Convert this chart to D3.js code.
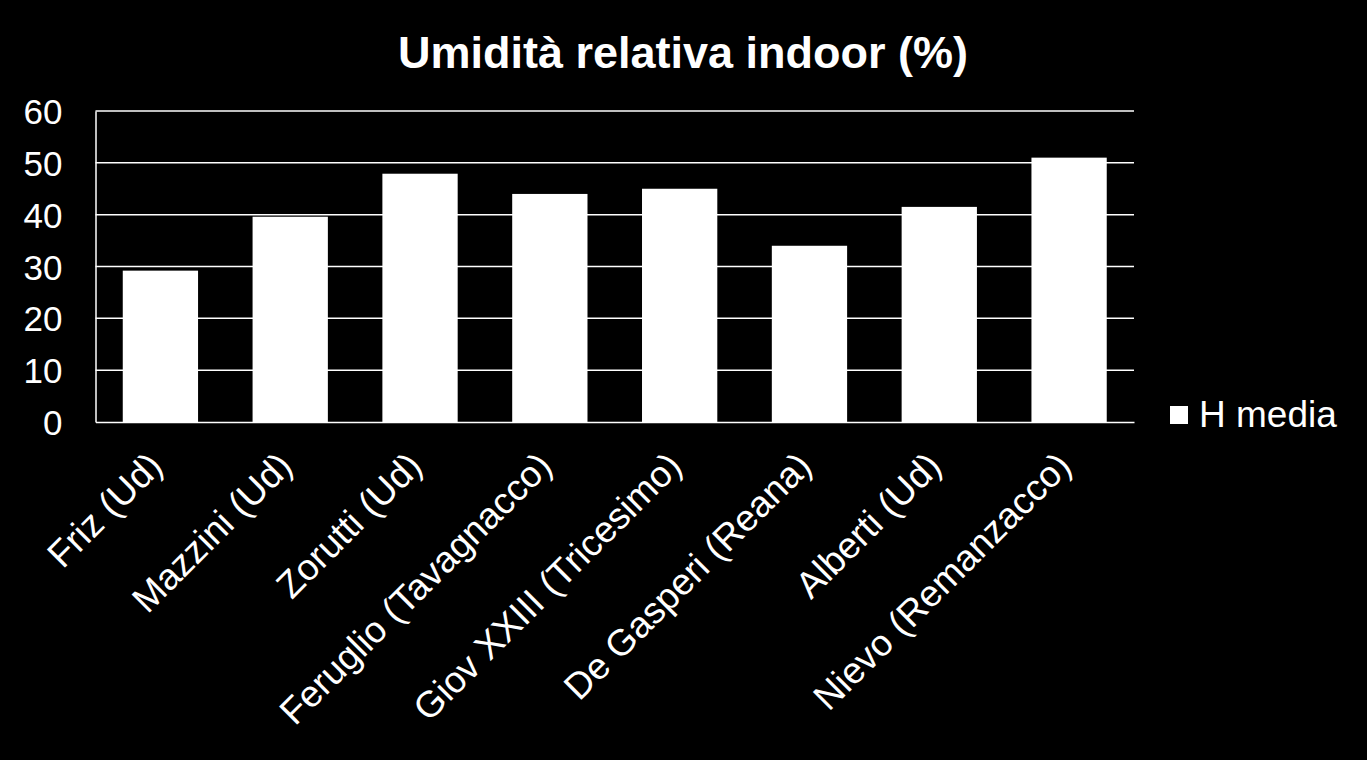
<!DOCTYPE html>
<html><head><meta charset="utf-8">
<script src="https://cdn.jsdelivr.net/npm/d3@7"></script>
<style>html,body{margin:0;padding:0;background:#000;}svg{display:block;}</style>
</head><body>
<script>
const categories = ["Friz (Ud)","Mazzini (Ud)","Zorutti (Ud)","Feruglio (Tavagnacco)","Giov XXIII (Tricesimo)","De Gasperi (Reana)","Alberti (Ud)","Nievo (Remanzacco)"];
const hMedia = [29.2, 39.6, 47.9, 44.0, 45.0, 34.0, 41.5, 51.0];
const yTicks = [0,10,20,30,40,50,60];
const seriesName = "H media";
const title = "Umidità relativa indoor (%)";

const W = 1367, H = 760;
const m = {left: 95.5, right: 1134, top: 111, bottom: 422};
const font = "Liberation Sans, Arial, sans-serif";

const svg = d3.select("body").append("svg").attr("width", W).attr("height", H)
  .style("background", "#000");

const x = d3.scaleBand().domain(categories).range([m.left, m.right]).paddingInner(0.42).paddingOuter(0.21);
const y = d3.scaleLinear().domain([0, 60]).range([m.bottom, m.top]);

// gridlines
svg.append("g").selectAll("line").data(yTicks.filter(d => d > 0)).join("line")
  .attr("x1", m.left).attr("x2", m.right)
  .attr("y1", d => y(d)).attr("y2", d => y(d))
  .attr("stroke", "#fff").attr("stroke-width", 1.5);

// bars
svg.append("g").selectAll("rect").data(hMedia).join("rect")
  .attr("x", (d, i) => x(categories[i]))
  .attr("width", x.bandwidth())
  .attr("y", d => y(d))
  .attr("height", d => y(0) - y(d))
  .attr("fill", "#fff");

// y axis
const yAxis = svg.append("g").attr("transform", `translate(${m.left},0)`)
  .call(d3.axisLeft(y).tickValues(yTicks).tickSize(0).tickPadding(33));
yAxis.select(".domain").attr("stroke", "#fff").attr("stroke-width", 1.5);
yAxis.selectAll("text").attr("fill", "#fff").style("font-family", font).style("font-size", "35px")
  .attr("dy", "0.36em");

// x axis
const xAxis = svg.append("g").attr("transform", `translate(0,${m.bottom})`)
  .call(d3.axisBottom(x).tickSize(0).tickPadding(0));
xAxis.select(".domain").attr("stroke", "#fff").attr("stroke-width", 1.5);
xAxis.selectAll("text")
  .attr("fill", "#fff").style("font-family", font).style("font-size", "37px")
  .attr("text-anchor", "end")
  .attr("y", 0).attr("dy", 0)
  .attr("transform", "translate(4,46) rotate(-45)");

// title
svg.append("text").attr("x", 683).attr("y", 68).attr("text-anchor", "middle")
  .attr("fill", "#fff").style("font-family", font).style("font-weight", "bold").style("font-size", "45px")
  .text(title);

// legend
const lg = svg.append("g");
lg.append("rect").attr("x", 1170).attr("y", 406).attr("width", 18).attr("height", 18).attr("fill", "#fff");
lg.append("text").attr("x", 1199).attr("y", 427).attr("fill", "#fff")
  .style("font-family", font).style("font-size", "37px").text(seriesName);
</script>
</body></html>
